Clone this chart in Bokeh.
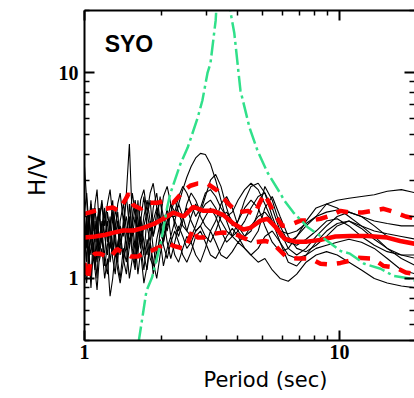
from bokeh.plotting import figure
from bokeh.models import LogAxis, FixedTicker, Range1d, Label, PrintfTickFormatter, Title
from bokeh.embed import file_html
from bokeh.resources import INLINE

# Periods (s) at which the individual H/V curves are sampled
period = [1.00, 1.02, 1.04, 1.06, 1.08, 1.10, 1.12, 1.14,
          1.17, 1.20, 1.23, 1.26, 1.29, 1.32, 1.35, 1.38,
          1.42, 1.46, 1.50, 1.54, 1.58, 1.62, 1.66, 1.71,
          1.76, 1.81, 1.86, 1.92, 1.98, 2.04, 2.11, 2.18,
          2.26, 2.34, 2.43, 2.52, 2.62, 2.73, 2.85, 2.98,
          3.12, 3.27, 3.43, 3.61, 3.80, 4.00, 4.25, 4.50,
          4.80, 5.10, 5.45, 5.85, 6.30, 6.80, 7.40, 8.10,
          8.90, 9.80, 10.9, 12.2, 13.7, 15.4, 17.5, 20.0]

# H/V spectral ratios, one list per event
hv_1 = [3.5, 2.4, 1.6, 2.3, 1.4, 1.2, 1.9, 2.2,
        1.5, 1.3, 2.1, 1.7, 2.4, 1.4, 1.2, 1.8,
        1.6, 2.6, 4.5, 1.9, 1.4, 2.4, 1.6, 1.3,
        2.0, 2.4, 1.6, 1.9, 2.5, 1.7, 2.2, 1.6,
        1.9, 2.3, 2.0, 1.7, 1.6, 1.8, 2.1, 2.3,
        2.4, 2.2, 1.9, 1.7, 1.6, 1.7, 1.9, 2.2,
        2.5, 2.6, 2.2, 1.7, 1.4, 1.3, 1.4, 1.6,
        1.8, 2.0, 2.1, 2.0, 1.8, 1.6, 1.5, 1.5]
hv_2 = [1.2, 1.7, 1.1, 1.0, 1.5, 1.3, 1.0, 1.6,
        1.8, 1.2, 1.05, 1.5, 1.3, 1.7, 1.2, 1.0,
        1.4, 1.2, 1.8, 1.3, 1.1, 1.6, 1.9, 1.3,
        1.1, 1.5, 1.2, 1.0, 1.3, 1.6, 1.9, 2.0,
        2.0, 2.3, 2.7, 3.1, 3.5, 3.85, 4.05, 4.0,
        3.6, 3.0, 2.4, 1.9, 1.6, 1.5, 1.6, 1.8,
        2.0, 2.1, 1.9, 1.5, 1.2, 1.15, 1.3, 1.5,
        1.7, 1.85, 1.9, 1.8, 1.6, 1.4, 1.25, 1.15]
hv_3 = [1.7, 1.2, 2.0, 1.5, 2.2, 1.4, 1.2, 1.9,
        2.3, 1.6, 1.9, 1.2, 1.5, 2.2, 1.8, 1.3,
        1.9, 1.4, 2.3, 1.6, 2.0, 1.3, 1.9, 2.5,
        1.8, 1.5, 2.2, 2.6, 1.9, 1.5, 1.9, 2.3,
        1.8, 1.6, 1.9, 2.3, 2.6, 2.4, 2.1, 2.5,
        3.0, 3.2, 2.8, 2.2, 1.8, 1.9, 2.4, 2.8,
        2.9, 2.6, 2.0, 1.6, 1.5, 1.6, 1.8, 2.0,
        2.3, 2.4, 2.45, 2.5, 2.55, 2.65, 2.7, 2.6]
hv_4 = [1.15, 0.95, 1.4, 0.9, 1.3, 1.1, 0.88, 1.2,
        1.4, 1.0, 1.25, 0.82, 1.0, 1.35, 1.1, 0.95,
        1.2, 1.45, 1.0, 1.25, 1.5, 1.05, 1.35, 0.95,
        1.15, 1.5, 1.05, 1.35, 1.55, 1.15, 1.4, 1.6,
        1.3, 1.2, 1.4, 1.6, 1.5, 1.3, 1.2, 1.4,
        1.7, 1.5, 1.3, 1.25, 1.35, 1.5, 1.4, 1.3,
        1.2, 1.25, 1.1, 1.0, 0.97, 1.05, 1.2, 1.3,
        1.35, 1.3, 1.2, 1.1, 1.0, 0.95, 0.92, 0.9]
hv_5 = [2.1, 2.6, 1.8, 2.4, 1.7, 2.3, 2.7, 1.9,
        2.4, 1.8, 2.3, 2.7, 2.0, 1.7, 2.3, 2.6,
        1.9, 2.5, 1.8, 2.6, 2.1, 1.7, 2.4, 2.7,
        2.1, 2.6, 2.9, 2.2, 1.9, 2.5, 2.8, 2.3,
        2.1, 2.5, 2.8, 2.6, 2.3, 2.0, 2.2, 2.6,
        2.7, 2.5, 2.2, 2.0, 2.1, 2.4, 2.7, 2.9,
        2.7, 2.3, 1.9, 1.7, 1.65, 1.7, 1.85, 2.0,
        2.1, 2.15, 2.1, 2.0, 1.9, 1.85, 1.8, 1.8]
hv_6 = [1.4, 1.9, 1.3, 1.8, 2.1, 1.5, 2.0, 1.3,
        1.8, 2.2, 1.5, 2.0, 1.3, 1.8, 2.1, 1.5,
        1.25, 1.7, 2.0, 1.4, 1.15, 1.6, 2.0, 1.5,
        1.3, 1.9, 1.4, 1.2, 1.7, 2.0, 1.5, 1.25,
        1.5, 1.8, 1.6, 1.4, 1.5, 1.7, 1.8, 1.6,
        1.5, 1.7, 2.0, 2.1, 1.9, 1.7, 1.55, 1.5,
        1.7, 2.2, 2.5, 2.0, 1.6, 1.4, 1.35, 1.45,
        1.6, 1.8, 1.9, 1.75, 1.55, 1.4, 1.3, 1.25]
hv_7 = [1.9, 1.4, 2.1, 1.5, 1.3, 1.9, 1.5, 2.2,
        1.5, 2.1, 1.6, 1.4, 2.0, 1.5, 1.3, 1.9,
        2.3, 1.7, 1.4, 2.0, 2.4, 1.9, 1.5, 2.0,
        2.4, 1.9, 1.6, 2.1, 2.4, 2.0, 1.7, 2.1,
        2.4, 2.1, 1.8, 1.7, 2.0, 2.3, 2.0, 1.8,
        1.7, 1.9, 2.3, 2.5, 2.2, 1.8, 1.6, 1.7,
        2.1, 2.8, 2.4, 1.8, 1.5, 1.45, 1.55, 1.7,
        1.9, 1.95, 1.8, 1.6, 1.45, 1.35, 1.3, 1.3]
hv_8 = [1.35, 1.8, 1.2, 1.65, 1.45, 1.1, 1.55, 1.25,
        1.6, 1.15, 1.45, 1.7, 1.25, 1.05, 1.5, 1.7,
        1.25, 1.05, 1.45, 1.7, 1.2, 1.8, 1.45, 1.1,
        1.55, 1.25, 1.15, 1.55, 1.85, 1.45, 1.25, 1.5,
        1.7, 1.5, 1.3, 1.2, 1.35, 1.6, 1.7, 1.5,
        1.3, 1.25, 1.4, 1.6, 1.75, 1.6, 1.4, 1.3,
        1.4, 1.6, 1.7, 1.5, 1.3, 1.25, 1.3, 1.4,
        1.45, 1.5, 1.55, 1.5, 1.4, 1.25, 1.1, 1.05]
hv_9 = [1.6, 2.0, 1.5, 1.3, 1.8, 2.2, 1.6, 1.4,
        1.9, 1.6, 1.3, 1.8, 2.1, 1.6, 1.9, 1.5,
        1.7, 2.0, 1.5, 1.8, 2.2, 1.7, 1.4, 1.8,
        2.1, 1.7, 1.9, 2.2, 1.7, 1.5, 1.8, 2.1,
        1.9, 1.7, 2.0, 2.2, 1.9, 1.7, 1.8, 2.0,
        2.2, 2.0, 1.7, 1.5, 1.6, 1.9, 2.2, 2.4,
        2.2, 1.8, 1.5, 1.35, 1.4, 1.6, 1.9, 2.2,
        2.3, 2.2, 2.0, 1.8, 1.7, 1.65, 1.6, 1.55]
event_curves = [hv_1, hv_2, hv_3, hv_4, hv_5, hv_6, hv_7, hv_8, hv_9]

# Average H/V
mean_period = [1.00, 1.10, 1.21, 1.30, 1.42, 1.56, 1.70, 1.87, 2.04, 2.23,
               2.45, 2.67, 2.93, 3.20, 3.51, 3.83, 4.20, 4.47, 4.90, 5.22,
               5.61, 6.08, 6.72, 7.46, 8.43, 9.65, 11.0, 12.9, 15.4, 17.3, 20.0]
mean_hv = [1.58, 1.60, 1.63, 1.67, 1.71, 1.71, 1.76, 1.84, 1.95, 2.09,
           2.00, 2.23, 2.13, 2.13, 2.03, 1.85, 1.73, 1.76, 1.91, 1.95,
           1.78, 1.56, 1.51, 1.51, 1.54, 1.60, 1.61, 1.61, 1.58, 1.52, 1.47]

# Average + 1 sigma
upper_period = [1.00, 1.10, 1.21, 1.29, 1.36, 1.44, 1.49, 1.56, 1.66, 1.77,
                1.93, 2.08, 2.23, 2.45, 2.60, 2.77, 3.03, 3.32, 3.64, 3.98,
                4.36, 4.65, 4.85, 5.08, 5.36, 5.61, 5.98, 6.42, 7.03, 7.70,
                8.43, 9.22, 10.1, 11.0, 12.3, 13.5, 14.9, 16.6, 18.2, 20.0]
upper_hv = [2.06, 2.13, 2.18, 2.21, 2.13, 2.39, 2.58, 2.26, 2.18, 2.33,
            2.33, 2.39, 2.33, 2.67, 2.82, 2.89, 2.89, 2.67, 2.33, 2.09,
            2.13, 2.04, 2.31, 2.58, 2.26, 2.02, 1.80, 1.82, 1.91, 1.91,
            1.95, 2.02, 2.13, 2.09, 2.09, 2.13, 2.18, 2.09, 2.00, 1.95]

# Average - 1 sigma
lower_period = [1.00, 1.03, 1.06, 1.10, 1.15, 1.26, 1.34, 1.44, 1.52, 1.62,
                1.70, 1.82, 1.99, 2.13, 2.23, 2.38, 2.49, 2.67, 2.77, 2.93,
                3.12, 3.46, 3.83, 4.27, 4.68, 5.12, 5.45, 5.87, 6.24, 6.87,
                7.70, 8.43, 9.22, 10.1, 11.0, 11.8, 13.5, 14.9, 16.6, 18.2, 20.0]
lower_hv = [1.19, 0.98, 1.26, 1.32, 1.32, 1.26, 1.39, 1.32, 1.28, 1.28,
            1.32, 1.36, 1.43, 1.49, 1.44, 1.41, 1.39, 1.75, 1.58, 1.58,
            1.64, 1.67, 1.66, 1.56, 1.50, 1.52, 1.49, 1.36, 1.26, 1.25,
            1.25, 1.18, 1.17, 1.19, 1.22, 1.26, 1.25, 1.15, 1.13, 1.07, 1.05]

# Theoretical single-layer response
model_period = [1.63, 1.75, 1.84, 1.99, 2.11, 2.17, 2.38, 2.54, 2.78, 2.90,
                3.04, 3.12, 3.27, 3.32, 3.66, 3.74, 3.87, 4.09, 4.44, 4.77,
                5.22, 5.87, 6.08, 6.60, 7.49, 8.97, 10.1, 11.0, 12.5, 14.5,
                16.3, 18.9, 20.0]
model_hv = [0.49, 0.87, 1.01, 1.48, 2.21, 2.58, 3.61, 4.32, 6.04, 7.31,
            10.0, 11.1, 17.9, 25.0, 25.0, 19.6, 15.5, 8.18, 5.40, 4.18,
            3.27, 2.58, 2.39, 2.09, 1.78, 1.52, 1.36, 1.32, 1.18, 1.115,
            1.03, 1.00, 0.97]

x_major = [1, 10]
x_minor = [2, 3, 4, 5, 6, 7, 8, 9, 20]
y_major = [1, 10]
y_minor = [0.5, 0.6, 0.7, 0.8, 0.9, 2, 3, 4, 5, 6, 7, 8, 9, 20]

station = "SYO"
x_title = "Period (sec)"
y_title = "H/V"

p = figure(width=414, height=398, x_axis_type="log", y_axis_type="log",
           x_range=Range1d(1, 19.7), y_range=Range1d(0.5, 20),
           output_backend="svg", toolbar_location=None,
           min_border_left=84, min_border_right=0,
           min_border_top=10, min_border_bottom=58)
p.outline_line_color = None
p.grid.visible = False
p.background_fill_color = "white"
p.border_fill_color = "white"


def style_axis(ax, major, minor, labels):
    ax.ticker = FixedTicker(ticks=major, minor_ticks=minor)
    ax.formatter = PrintfTickFormatter(format="%d")
    ax.axis_line_width = 2
    ax.axis_line_color = "black"
    ax.major_tick_in = 10
    ax.major_tick_out = 0
    ax.minor_tick_in = 5
    ax.minor_tick_out = 0
    ax.major_tick_line_width = 2
    ax.minor_tick_line_width = 1.5
    ax.major_tick_line_color = "black"
    ax.minor_tick_line_color = "black"
    if labels:
        ax.major_label_text_font = "Liberation Serif"
        ax.major_label_text_font_style = "bold"
        ax.major_label_text_font_size = "20px"
        ax.major_label_text_color = "black"
    else:
        ax.major_label_text_font_size = "1px"
        ax.major_label_text_color = None
        ax.major_label_standoff = 0


style_axis(p.xaxis[0], x_major, x_minor, True)
style_axis(p.yaxis[0], y_major, y_minor, True)
p.xaxis[0].major_label_standoff = 4
p.yaxis[0].major_label_standoff = 6

top_axis = LogAxis()
style_axis(top_axis, x_major, x_minor, False)
p.add_layout(top_axis, "above")

right_axis = LogAxis()
style_axis(right_axis, y_major, y_minor, False)
right_axis.axis_line_color = None
p.add_layout(right_axis, "right")

# axis titles
p.add_layout(Title(text=x_title, align="left", offset=119, standoff=9,
                   text_font="DejaVu Sans", text_font_style="normal",
                   text_font_size="21px", text_color="black"), "below")
p.add_layout(Title(text=y_title, align="center", offset=2, standoff=12,
                   text_font="DejaVu Sans", text_font_style="normal",
                   text_font_size="23px", text_color="black"), "left")

# individual events
for hv in event_curves:
    p.line(period, hv, line_color="black", line_width=1.1)

# average and +/- 1 sigma
p.line(upper_period, upper_hv, line_color="#ff0000", line_width=4.5, line_dash="12 10")
p.line(lower_period, lower_hv, line_color="#ff0000", line_width=4.5, line_dash="12 10")
p.line(mean_period, mean_hv, line_color="#ff0000", line_width=4.5)

# theoretical response
p.line(model_period, model_hv, line_color="#30e08a", line_width=2.5, line_dash="16 4 3 4")

p.add_layout(Label(x=1.2, y=13.8, text=station, text_font="Liberation Sans",
                   text_font_style="bold", text_font_size="23px", text_color="black",
                   text_baseline="alphabetic"))

open("out.html", "w").write(file_html(p, INLINE))
